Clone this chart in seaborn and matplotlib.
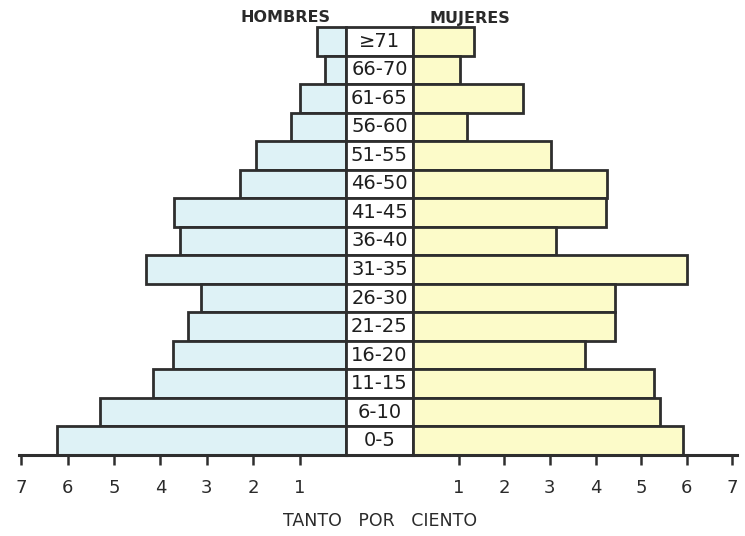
import matplotlib
matplotlib.use("Agg")
import matplotlib.pyplot as plt
import seaborn as sns
import pandas as pd

# ---- data ----
age_groups = ["≥71", "66-70", "61-65", "56-60", "51-55", "46-50", "41-45",
              "36-40", "31-35", "26-30", "21-25", "16-20", "11-15", "6-10", "0-5"]
hombres = [0.63, 0.45, 1.0, 1.19, 1.95, 2.29, 3.7, 3.57, 4.32, 3.13, 3.41,
           3.72, 4.17, 5.31, 6.24]
mujeres = [1.34, 1.04, 2.42, 1.19, 3.03, 4.26, 4.23, 3.13, 6.0, 4.42, 4.42,
           3.77, 5.29, 5.41, 5.91]
tick_values = [1, 2, 3, 4, 5, 6, 7]
tick_labels = ["1", "2", "3", "4", "5", "6", "7"]

df = pd.DataFrame({"edad": age_groups, "hombres": hombres, "mujeres": mujeres,
                   "centro": [1] * len(age_groups)})

sns.set_theme(style="white")
plt.rcParams["font.family"] = ["DejaVu Sans"]

W, H = 745, 536
fig = plt.figure(figsize=(W / 100, H / 100), dpi=100)
fig.patch.set_facecolor("white")

top_px, bot_px = 27, 455
l0, lz = 19, 346      # left axis: 7 at l0, 0 at lz
rz, r7 = 413, 737     # right axis: 0 at rz, 7 at r7


def fx(px):
    return px / W


def fy(px):
    return 1 - px / H


ax_h = (fy(bot_px), fy(top_px) - fy(bot_px))
axL = fig.add_axes([fx(l0), ax_h[0], fx(lz) - fx(l0), ax_h[1]])
axC = fig.add_axes([fx(lz), ax_h[0], fx(rz) - fx(lz), ax_h[1]])
axR = fig.add_axes([fx(rz), ax_h[0], fx(r7) - fx(rz), ax_h[1]])

edge = "#2e2e2e"
lw = 2.0
blue = "#def2f6"
yellow = "#fcfbc9"

sns.barplot(data=df, y="edad", x="hombres", orient="h", ax=axL, color=blue,
            width=1.0, edgecolor=edge, linewidth=lw, saturation=1)
sns.barplot(data=df, y="edad", x="mujeres", orient="h", ax=axR, color=yellow,
            width=1.0, edgecolor=edge, linewidth=lw, saturation=1)
sns.barplot(data=df, y="edad", x="centro", orient="h", ax=axC, color="white",
            width=1.0, edgecolor=edge, linewidth=lw, saturation=1)

n = len(age_groups)
for ax in (axL, axC, axR):
    ax.set_ylim(n - 0.5, -0.5)
    ax.set_ylabel("")
    ax.set_xlabel("")
    ax.set_yticks([])
    for s in ("top", "right", "left"):
        ax.spines[s].set_visible(False)
    ax.spines["bottom"].set_color(edge)
    ax.spines["bottom"].set_linewidth(2.2)
    ax.patch.set_alpha(0)
    for p in ax.patches:
        p.set_clip_on(False)

axL.set_xlim(7.05, 0)
axR.set_xlim(0, 7.1)
axC.set_xlim(0, 1)
axC.set_xticks([])

for ax in (axL, axR):
    ax.set_xticks(tick_values)
    ax.set_xticklabels(tick_labels)
    ax.tick_params(axis="x", direction="out", length=7, width=1.8,
                   color=edge, labelsize=13, labelcolor="#2a2a2a", pad=10,
                   bottom=True)

for i, lab in enumerate(age_groups):
    axC.text(0.5, i, lab, ha="center", va="center", fontsize=14,
             color="#1e1e1e", fontweight="normal")

fig.text(fx(285), fy(18), "HOMBRES", ha="center", va="center",
         fontsize=11.5, color="#2a2a2a", fontweight="bold")
fig.text(fx(470), fy(18), "MUJERES", ha="center", va="center",
         fontsize=11.5, color="#2a2a2a", fontweight="bold")
fig.text(fx(380), fy(521), "TANTO   POR   CIENTO", ha="center", va="center",
         fontsize=12.5, color="#2a2a2a")

fig.savefig("out.png", dpi=100, facecolor="white")
